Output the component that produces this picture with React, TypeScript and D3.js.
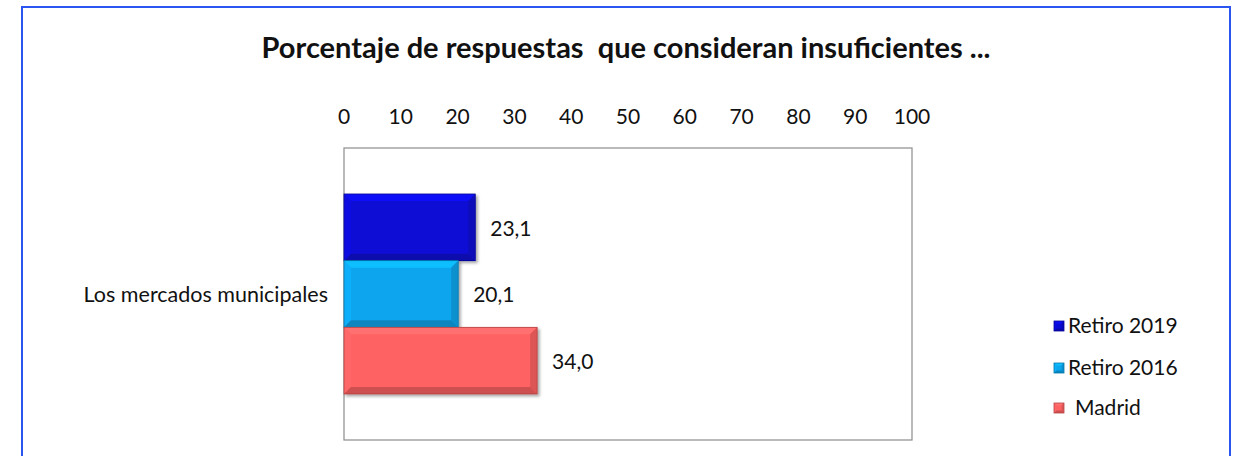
import { useEffect, useRef } from "react"
import * as d3 from "d3"

const categories = ["Los mercados municipales"]
const seriesNames = ["Retiro 2019", "Retiro 2016", "Madrid"]
const seriesValues = [[23.1], [20.1], [34.0]]
const seriesColors = ["#0a0ad6", "#0aa6ee", "#ff6262"]
const xTicks = [0, 10, 20, 30, 40, 50, 60, 70, 80, 90, 100]
const title = "Porcentaje de respuestas  que consideran insuficientes ..."

const W = 1237
const H = 456
const font = "Lato, 'Open Sans', sans-serif"

export default function App() {
  const svgRef = useRef<SVGSVGElement>(null)

  useEffect(() => {
    const svg = d3.select(svgRef.current)
    svg.selectAll("*").remove()

    const plot = { left: 344, top: 148, right: 912, bottom: 440 }

    // outer frame
    svg.append("rect")
      .attr("x", 22).attr("y", 7)
      .attr("width", 1208).attr("height", 470)
      .attr("fill", "#fff")
      .attr("stroke", "#2a55f0")
      .attr("stroke-width", 2)

    svg.append("text")
      .attr("x", 626).attr("y", 58)
      .attr("text-anchor", "middle")
      .style("font-family", font)
      .style("font-weight", "bold")
      .style("font-size", "29px")
      .style("white-space", "pre")
      .attr("fill", "#111")
      .text(title)

    const x = d3.scaleLinear().domain([0, 100]).range([plot.left, plot.right])
    const y = d3.scaleBand().domain(categories).range([plot.top, plot.bottom]).paddingInner(0).paddingOuter(0.23)

    // plot box
    svg.append("rect")
      .attr("x", plot.left).attr("y", plot.top)
      .attr("width", plot.right - plot.left).attr("height", plot.bottom - plot.top)
      .attr("fill", "none")
      .attr("stroke", "#8c8c8c")
      .attr("stroke-width", 1.2)

    // top axis labels
    svg.append("g")
      .selectAll("text")
      .data(xTicks)
      .join("text")
      .attr("x", (d) => x(d))
      .attr("y", 124)
      .attr("text-anchor", "middle")
      .style("font-family", font)
      .style("font-size", "21px")
      .attr("fill", "#111")
      .text((d) => d)

    const defs = svg.append("defs")
    const shadow = defs.append("filter").attr("id", "sh").attr("x", "-10%").attr("y", "-10%").attr("width", "130%").attr("height", "140%")
    shadow.append("feDropShadow").attr("dx", 2).attr("dy", 2).attr("stdDeviation", 1.5).attr("flood-color", "#000").attr("flood-opacity", 0.35)

    const sub = d3.scaleBand().domain(seriesNames).range([0, y.bandwidth()])

    const bevel = (g: d3.Selection<SVGGElement, unknown, null, undefined>, x0: number, y0: number, w: number, h: number, color: string, b: number) => {
      const c = d3.color(color)!
      g.append("rect").attr("x", x0).attr("y", y0).attr("width", w).attr("height", h).attr("fill", color)
      // top
      g.append("polygon").attr("points", `${x0},${y0} ${x0 + w},${y0} ${x0 + w - b},${y0 + b} ${x0 + b},${y0 + b}`).attr("fill", c.brighter(0.4).toString())
      // left
      g.append("polygon").attr("points", `${x0},${y0} ${x0 + b},${y0 + b} ${x0 + b},${y0 + h - b} ${x0},${y0 + h}`).attr("fill", c.brighter(0.15).toString())
      // right
      g.append("polygon").attr("points", `${x0 + w},${y0} ${x0 + w},${y0 + h} ${x0 + w - b},${y0 + h - b} ${x0 + w - b},${y0 + b}`).attr("fill", c.darker(0.4).toString())
      // bottom
      g.append("polygon").attr("points", `${x0},${y0 + h} ${x0 + w},${y0 + h} ${x0 + w - b},${y0 + h - b} ${x0 + b},${y0 + h - b}`).attr("fill", c.darker(0.6).toString())
      g.append("rect").attr("x", x0).attr("y", y0).attr("width", w).attr("height", h).attr("fill", "none").attr("stroke", c.darker(1).toString()).attr("stroke-width", 0.8)
    }

    categories.forEach((cat, ci) => {
      seriesNames.forEach((s, si) => {
        const v = seriesValues[si][ci]
        const y0 = y(cat)! + sub(s)!
        const h = sub.bandwidth()
        const g = svg.append("g").attr("filter", "url(#sh)")
        bevel(g, x(0), y0, x(v) - x(0), h, seriesColors[si], 7)
        svg.append("text")
          .attr("x", x(v) + 15)
          .attr("y", y0 + h / 2 + 1)
          .attr("dy", "0.35em")
          .style("font-family", font)
          .style("font-size", "21px")
          .attr("fill", "#111")
          .text(d3.format(".1f")(v).replace(".", ","))
      })

      svg.append("text")
        .attr("x", 328)
        .attr("y", y(cat)! + y.bandwidth() / 2)
        .attr("dy", "0.35em")
        .attr("text-anchor", "end")
        .style("font-family", font)
        .style("font-size", "21.5px")
        .attr("fill", "#111")
        .text(cat)
    })

    // legend
    const legendY = [326, 368, 408]
    seriesNames.forEach((s, i) => {
      const g = svg.append("g")
      bevel(g, 1054, legendY[i] - 5, 10, 10, seriesColors[i], 2.5)
      svg.append("text")
        .attr("x", i === 2 ? 1075 : 1068)
        .attr("y", legendY[i])
        .attr("dy", "0.35em")
        .style("font-family", font)
        .style("font-size", "21px")
        .attr("fill", "#111")
        .text(s)
    })
  }, [])

  return (
    <svg ref={svgRef} width={W} height={H} style={{ position: "absolute", left: 0, top: 0, display: "block" }} />
  )
}
